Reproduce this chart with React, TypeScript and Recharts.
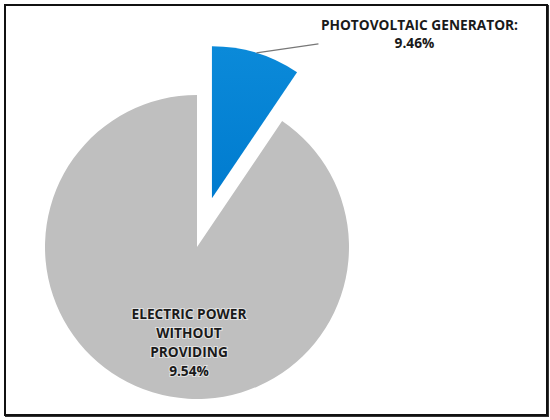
import { PieChart, Pie, Cell } from 'recharts';

/* ── Data ── */
const names = ['PHOTOVOLTAIC GENERATOR:', 'ELECTRIC POWER WITHOUT PROVIDING'];
const values = [9.46, 90.54];
const shownPct = ['9.46%', '9.54%'];
const colors = ['url(#pvBlue)', '#bfbfbf'];

const data = names.map((name, i) => ({ name, value: values[i] }));

const W = 550;
const H = 420;
const CX = 197;
const CY = 247;
const R = 152;
const EXPLODE = 51;

// blue slice pulled out along its mid angle (recharts angles, ccw from 3 o'clock)
const total = values.reduce((a, b) => a + b, 0);
const midDeg = 90 - (values[0] / total) * 180;
const BX = CX + EXPLODE * Math.cos((midDeg * Math.PI) / 180);
const BY = CY - EXPLODE * Math.sin((midDeg * Math.PI) / 180);

const FONT = '"Open Sans", "DejaVu Sans", sans-serif';
const txt = { fontFamily: FONT, fontWeight: 700, fontSize: 13.7, fill: '#1a1a1a' };

const rad = (d: number) => (d * Math.PI) / 180;

const PvLabel = (p: any) => {
  if (p.index !== 0) return null;
  const sx = p.cx + p.outerRadius * Math.cos(rad(p.midAngle));
  const sy = p.cy - p.outerRadius * Math.sin(rad(p.midAngle));
  return (
    <g>
      <polyline points={`${sx},${sy} ${sx + 62},${sy - 9}`} stroke="#777" strokeWidth={1.2} fill="none" />
      <text x={sx + 163} y={sy - 23} textAnchor="middle" {...txt}>{names[0]}</text>
      <text x={sx + 158} y={sy - 5} textAnchor="middle" {...txt}>{shownPct[0]}</text>
    </g>
  );
};

const GreyLabel = (p: any) => {
  if (p.index !== 1) return null;
  const lines = ['ELECTRIC POWER', 'WITHOUT', 'PROVIDING', shownPct[1]];
  return (
    <g>
      {lines.map((l, i) => (
        <text key={i} x={p.cx - 8} y={p.cy + 72 + i * 19} textAnchor="middle" {...txt}
          stroke="rgba(255,255,255,0.55)" strokeWidth={2} paintOrder="stroke">{l}</text>
      ))}
    </g>
  );
};

export default function App() {
  return (
    <div style={{ position: 'absolute', left: 0, top: 0, width: W, height: H, background: '#fff' }}>
      <div style={{
        position: 'absolute', left: 4, top: 4, width: 540, height: 408,
        border: '2px solid #111', boxShadow: '1px 1px 0 #333',
      }} />
      <div style={{ position: 'absolute', left: 0, top: 0 }}>
        <PieChart width={W} height={H} margin={{ top: 0, right: 0, bottom: 0, left: 0 }}>
          <defs>
            <linearGradient id="pvBlue" x1="0" y1="0" x2="0" y2="1">
              <stop offset="0%" stopColor="#0b8ad9" />
              <stop offset="100%" stopColor="#007bcf" />
            </linearGradient>
          </defs>
          <Pie data={data} dataKey="value" nameKey="name" cx={CX} cy={CY} outerRadius={R}
            startAngle={90} endAngle={-270} stroke="none" isAnimationActive={false}
            label={GreyLabel} labelLine={false}>
            {data.map((_, i) => (
              <Cell key={i} fill={i === 1 ? colors[1] : 'transparent'} />
            ))}
          </Pie>
          <Pie data={data} dataKey="value" nameKey="name" cx={BX} cy={BY} outerRadius={R}
            startAngle={90} endAngle={-270} stroke="none" isAnimationActive={false}
            label={PvLabel} labelLine={false}>
            {data.map((_, i) => (
              <Cell key={i} fill={i === 0 ? colors[0] : 'transparent'} />
            ))}
          </Pie>
        </PieChart>
      </div>
    </div>
  );
}
